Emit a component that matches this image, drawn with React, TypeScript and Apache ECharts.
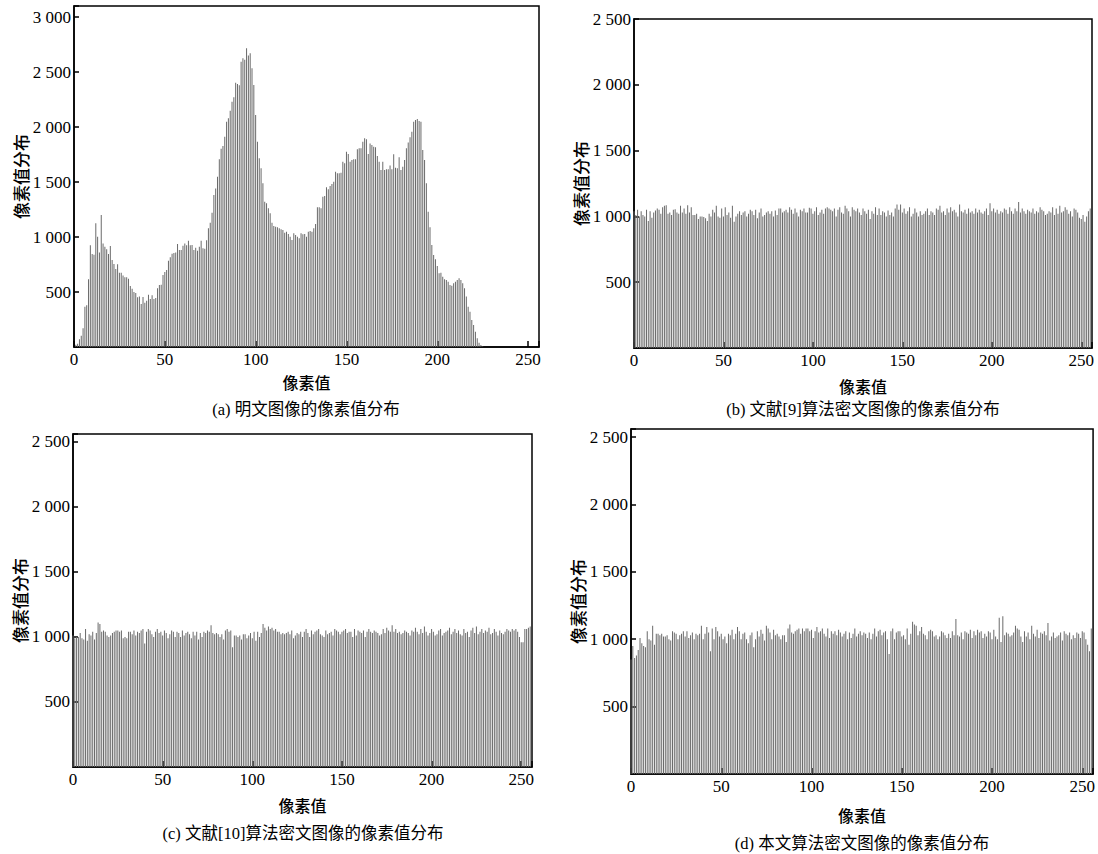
import React, { useEffect, useRef } from 'react';
import * as echarts from 'echarts';

// Pixel-value histograms, 256 bins (0..255)
const plainHist = [
  0, 20, 30, 70, 103, 170, 367, 379, 615, 924, 845, 839, 1124, 1003, 858, 1200,
  942, 912, 888, 845, 918, 791, 755, 709, 752, 676, 676, 651, 633, 633, 621, 554,
  530, 500, 491, 452, 458, 391, 455, 403, 421, 476, 436, 470, 436, 445, 533, 564,
  567, 655, 682, 700, 785, 815, 848, 855, 858, 936, 882, 882, 921, 942, 924, 967,
  924, 927, 882, 903, 876, 912, 967, 898, 894, 970, 1079, 1130, 1221, 1382, 1442, 1548,
  1706, 1803, 1827, 1912, 2048, 2079, 2148, 2230, 2270, 2403, 2390, 2380, 2594, 2624, 2612, 2715,
  2650, 2670, 2533, 2382, 2109, 1866, 1715, 1624, 1488, 1321, 1306, 1261, 1215, 1130, 1100, 1094,
  1088, 1079, 1070, 1064, 1039, 1048, 1027, 1003, 973, 1033, 1018, 1003, 988, 1033, 1024, 1027,
  1003, 1048, 1055, 1048, 1079, 1118, 1270, 1270, 1261, 1367, 1373, 1452, 1433, 1464, 1482, 1503,
  1594, 1579, 1579, 1585, 1685, 1670, 1776, 1755, 1685, 1700, 1706, 1706, 1797, 1806, 1806, 1867,
  1897, 1888, 1755, 1851, 1836, 1821, 1815, 1736, 1685, 1609, 1685, 1609, 1615, 1615, 1651, 1615,
  1752, 1630, 1624, 1724, 1609, 1639, 1700, 1806, 1858, 1906, 1957, 2048, 2064, 2073, 2054, 2048,
  1791, 1700, 1488, 1230, 1088, 927, 836, 797, 736, 670, 674, 639, 615, 609, 594, 564,
  557, 579, 594, 609, 624, 609, 579, 533, 458, 367, 321, 245, 200, 139, 79, 39,
  18, 5, 0, 0, 0, 0, 0, 0, 0, 0, 0, 0, 0, 0, 0, 0,
  0, 0, 0, 0, 0, 0, 0, 0, 0, 0, 0, 0, 0, 0, 0, 0,
];

const ref9Hist = [
  1040, 1010, 1050, 1000, 1040, 1010, 1000, 1050, 965, 1040, 990, 1030, 1045, 1060, 1050, 1020,
  1070, 1080, 1085, 1020, 1030, 1010, 1050, 1055, 1030, 1020, 1080, 1030, 1060, 1020, 1085, 1030,
  1070, 1010, 1010, 1020, 980, 1000, 1000, 995, 985, 965, 1020, 1000, 1050, 1030, 1080, 1000,
  990, 1060, 1000, 1070, 1010, 1030, 990, 1080, 960, 1000, 1020, 1040, 1010, 1030, 1040, 1000,
  1020, 1050, 1040, 1010, 1050, 985, 1030, 1060, 1000, 1010, 1030, 1040, 1020, 1040, 1000, 1045,
  1010, 1060, 1060, 1030, 1040, 1050, 1030, 1070, 1050, 1020, 1060, 1030, 1000, 1050, 1040, 1060,
  1030, 1030, 1065, 1060, 1020, 1040, 1070, 1010, 1030, 1050, 1020, 1060, 1070, 1060, 1050, 1040,
  1060, 1000, 1050, 1070, 1030, 1020, 1080, 1060, 1040, 1000, 1070, 1050, 1040, 1060, 1030, 1010,
  1060, 1040, 1020, 1050, 980, 1040, 1020, 1070, 1010, 1060, 1010, 1040, 1030, 1000, 1045, 1010,
  1030, 1000, 1060, 1090, 1050, 1090, 1030, 1060, 1020, 1040, 1070, 1000, 1020, 1060, 1030, 1000,
  1040, 1010, 1020, 1040, 1060, 1010, 1040, 1030, 1010, 1060, 1050, 1080, 1030, 1040, 1010, 1060,
  1030, 1070, 1040, 1050, 1030, 1000, 1090, 1040, 1030, 1050, 1020, 1060, 1030, 1040, 1020, 1060,
  1030, 1050, 1030, 1020, 1040, 1060, 1010, 1100, 1040, 1060, 1030, 1050, 1020, 1040, 1030, 1060,
  1050, 1020, 1070, 1040, 1020, 1060, 1040, 1110, 1030, 1060, 1040, 1020, 1050, 1040, 1030, 1060,
  1020, 1040, 1030, 1070, 1050, 1040, 1010, 1020, 1040, 1030, 1070, 1010, 1060, 1020, 1080, 1030,
  1040, 1070, 1050, 1020, 1040, 1000, 1060, 1050, 1030, 990, 980, 1010, 960, 1000, 1040, 1060,
];

const ref10Hist = [
  1010, 990, 1000, 1000, 1030, 990, 980, 1060, 970, 1020, 1010, 1040, 980, 1030, 1110, 1100,
  1040, 1050, 1040, 1010, 1000, 1010, 1030, 1040, 1050, 1050, 1040, 1050, 990, 1000, 990, 1040,
  1040, 1020, 1050, 1010, 1040, 1030, 1050, 1060, 950, 1040, 1060, 1050, 1020, 1000, 1040, 1060,
  1030, 1040, 1010, 1050, 1030, 990, 1020, 1050, 1040, 1000, 1040, 1030, 1000, 1050, 1010, 1030,
  1040, 1020, 990, 1040, 1010, 1040, 980, 1030, 1000, 1040, 1030, 1050, 1040, 1090, 1030, 1020,
  1030, 1020, 1000, 1020, 980, 1050, 1060, 1040, 1050, 920, 1010, 1010, 1000, 1010, 980, 1020,
  1020, 990, 1010, 1030, 990, 1040, 970, 1040, 1000, 1030, 1100, 1070, 1050, 1080, 1060, 1070,
  1050, 1060, 1040, 1040, 1020, 1030, 1020, 1030, 1040, 1020, 1050, 990, 1010, 1030, 1020, 1040,
  1000, 1040, 1060, 1030, 1000, 1050, 1020, 1040, 1050, 1060, 1020, 1010, 1000, 1050, 1020, 1030,
  1040, 1010, 1060, 1050, 1040, 1020, 1040, 1050, 1060, 1030, 1040, 1040, 1000, 1060, 1010, 1050,
  1040, 1030, 1050, 1000, 1040, 1060, 1040, 1030, 1050, 1040, 1030, 1010, 1020, 1060, 1030, 1070,
  1050, 1040, 1090, 1040, 1060, 1030, 1040, 1020, 1030, 1050, 1040, 1030, 1010, 1050, 1040, 1070,
  1040, 1020, 1060, 1030, 1080, 1040, 1010, 1030, 1060, 1040, 1010, 1020, 1050, 1060, 1010, 1030,
  1040, 1050, 1070, 1020, 1040, 1060, 1030, 1050, 1020, 1010, 1060, 1030, 1040, 1000, 1050, 1070,
  1030, 1080, 1020, 1040, 1060, 1030, 1050, 1040, 1070, 1020, 1030, 1060, 1040, 1010, 1050, 1030,
  1020, 1040, 1060, 1050, 1040, 1060, 1050, 1060, 1040, 1000, 960, 960, 1060, 1060, 1070, 1080,
];

const oursHist = [
  850, 950, 860, 880, 920, 1010, 970, 950, 940, 1060, 1000, 990, 1100, 960, 1040, 1040,
  1030, 1040, 1020, 1020, 1030, 1000, 990, 1060, 1050, 1040, 1000, 1030, 1040, 1060, 1020, 1060,
  1010, 1030, 1050, 1000, 1040, 1030, 1040, 1100, 1000, 1040, 1090, 1050, 910, 1080, 1000, 1090,
  1060, 1020, 1040, 1000, 1020, 970, 1040, 1030, 1070, 1000, 1040, 1090, 1060, 1000, 1040, 1050,
  1000, 970, 1030, 1050, 940, 1000, 1060, 1020, 1070, 1040, 990, 1100, 1080, 1050, 1000, 1070,
  1030, 1040, 1020, 1000, 1030, 1030, 980, 1080, 1110, 1050, 1040, 1060, 1070, 1080, 1040, 1080,
  1060, 1080, 1080, 1060, 1070, 1010, 1060, 1090, 1050, 1060, 1080, 1040, 1020, 1080, 1010, 1060,
  1040, 1060, 1030, 1070, 1050, 1020, 1040, 1060, 1000, 1050, 1010, 1040, 1080, 1020, 1040, 1060,
  1030, 1050, 1040, 1010, 1050, 1000, 1040, 1080, 1020, 1060, 1070, 1030, 1050, 1060, 1000, 890,
  1060, 1080, 1000, 1050, 1060, 1060, 1020, 1030, 1000, 1080, 960, 1040, 1130, 1110, 1100, 1030,
  1060, 1090, 1040, 1030, 1000, 1060, 1070, 1060, 1020, 1030, 1000, 1020, 1060, 1050, 1030, 1010,
  1040, 1010, 1060, 1030, 1150, 1030, 1020, 1050, 1000, 1060, 1050, 1040, 1070, 1010, 1060, 1030,
  1070, 1050, 1060, 1010, 1040, 1020, 1060, 1050, 1000, 1070, 1020, 1000, 1160, 980, 1170, 1030,
  1050, 1040, 1020, 1030, 1050, 1100, 1080, 1070, 1020, 980, 1060, 1020, 1050, 1000, 1100, 1040,
  1020, 1070, 1010, 1050, 1040, 1060, 1030, 1120, 990, 1020, 1050, 1010, 1020, 1030, 1050, 990,
  1060, 1040, 1030, 1050, 1000, 1030, 1010, 1050, 1040, 1010, 1060, 1050, 1000, 960, 910, 1080,
];

const captions = [
  '(a) 明文图像的像素值分布',
  '(b) 文献[9]算法密文图像的像素值分布',
  '(c) 文献[10]算法密文图像的像素值分布',
  '(d) 本文算法密文图像的像素值分布',
];
const xTitle = '像素值';
const yTitle = '像素值分布';
const yTickStep = 500;
const xTickStep = 50;
const binCount = 256;

const SERIF = "'Liberation Serif', 'Times New Roman', 'Noto Sans CJK SC', serif";
const CJK = "'Noto Sans CJK SC', sans-serif";

const panels = [
  { data: plainHist, left: 74, top: 6, width: 465, height: 341, yMax: 3100, xGap: 27, capX: 306, capY: 409 },
  { data: ref9Hist, left: 634, top: 19, width: 458, height: 329, yMax: 2500, xGap: 30, capX: 863, capY: 409 },
  { data: ref10Hist, left: 73, top: 434, width: 459, height: 333, yMax: 2560, xGap: 30, capX: 303, capY: 833 },
  { data: oursHist, left: 631, top: 429, width: 463, height: 345, yMax: 2560, xGap: 33, capX: 862, capY: 843 },
];

function fmtY(v: number): string {
  if (v === 0 || v % yTickStep !== 0) return '';
  if (v >= 1000) {
    const th = Math.floor(v / 1000);
    const rest = String(v % 1000).padStart(3, '0');
    return th + ' ' + rest;
  }
  return String(v);
}

export default function App() {
  const ref = useRef<HTMLDivElement>(null);
  useEffect(() => {
    if (!ref.current) return;
    const chart = echarts.init(ref.current, undefined, { renderer: 'svg' });
    const grid: any[] = [];
    const xAxis: any[] = [];
    const yAxis: any[] = [];
    const series: any[] = [];
    const graphic: any[] = [];
    panels.forEach((p, k) => {
      grid.push({
        left: p.left, top: p.top, width: p.width, height: p.height,
        show: true, borderColor: '#000', borderWidth: 1.5, backgroundColor: 'transparent',
      });
      xAxis.push({
        type: 'value', gridIndex: k, min: 0, max: binCount, interval: xTickStep,
        name: xTitle, nameLocation: 'middle', nameGap: p.xGap,
        nameTextStyle: { fontFamily: CJK, fontSize: 16, color: '#000', fontWeight: 500 },
        axisLine: { show: true, lineStyle: { color: '#000', width: 1.5 } },
        axisTick: { show: true, inside: true, length: 6, lineStyle: { color: '#000', width: 1.5 } },
        axisLabel: {
          show: true, margin: 4, fontFamily: SERIF, fontSize: 17, color: '#000',
          formatter: (v: number) => (v % xTickStep === 0 ? String(v) : ''),
        },
        splitLine: { show: false },
      });
      yAxis.push({
        type: 'value', gridIndex: k, min: 0, max: p.yMax, interval: yTickStep,
        name: yTitle, nameLocation: 'middle', nameGap: 44,
        nameTextStyle: { fontFamily: CJK, fontSize: 17, color: '#000', fontWeight: 500 },
        axisLine: { show: true, lineStyle: { color: '#000', width: 1.5 } },
        axisTick: { show: true, inside: true, length: 5, lineStyle: { color: '#000', width: 1.5 } },
        axisLabel: { show: true, margin: 3, fontFamily: SERIF, fontSize: 17, color: '#000', formatter: fmtY },
        splitLine: { show: false },
      });
      series.push({
        type: 'bar', xAxisIndex: k, yAxisIndex: k, barWidth: 1, silent: true,
        itemStyle: { color: '#6a6a6a' },
        data: p.data.map((v, i) => [i, v]),
      });
      graphic.push({
        type: 'text', x: p.capX, y: p.capY,
        style: {
          text: captions[k], fill: '#000', textAlign: 'center', textVerticalAlign: 'middle',
          font: `16.5px ${SERIF}`,
        },
      });
    });
    chart.setOption({
      animation: false,
      backgroundColor: '#fff',
      grid, xAxis, yAxis, series, graphic,
    });
    return () => chart.dispose();
  }, []);
  return (
    <div
      ref={ref}
      style={{ position: 'absolute', left: 0, top: 0, width: 1098, height: 854 }}
    />
  );
}
